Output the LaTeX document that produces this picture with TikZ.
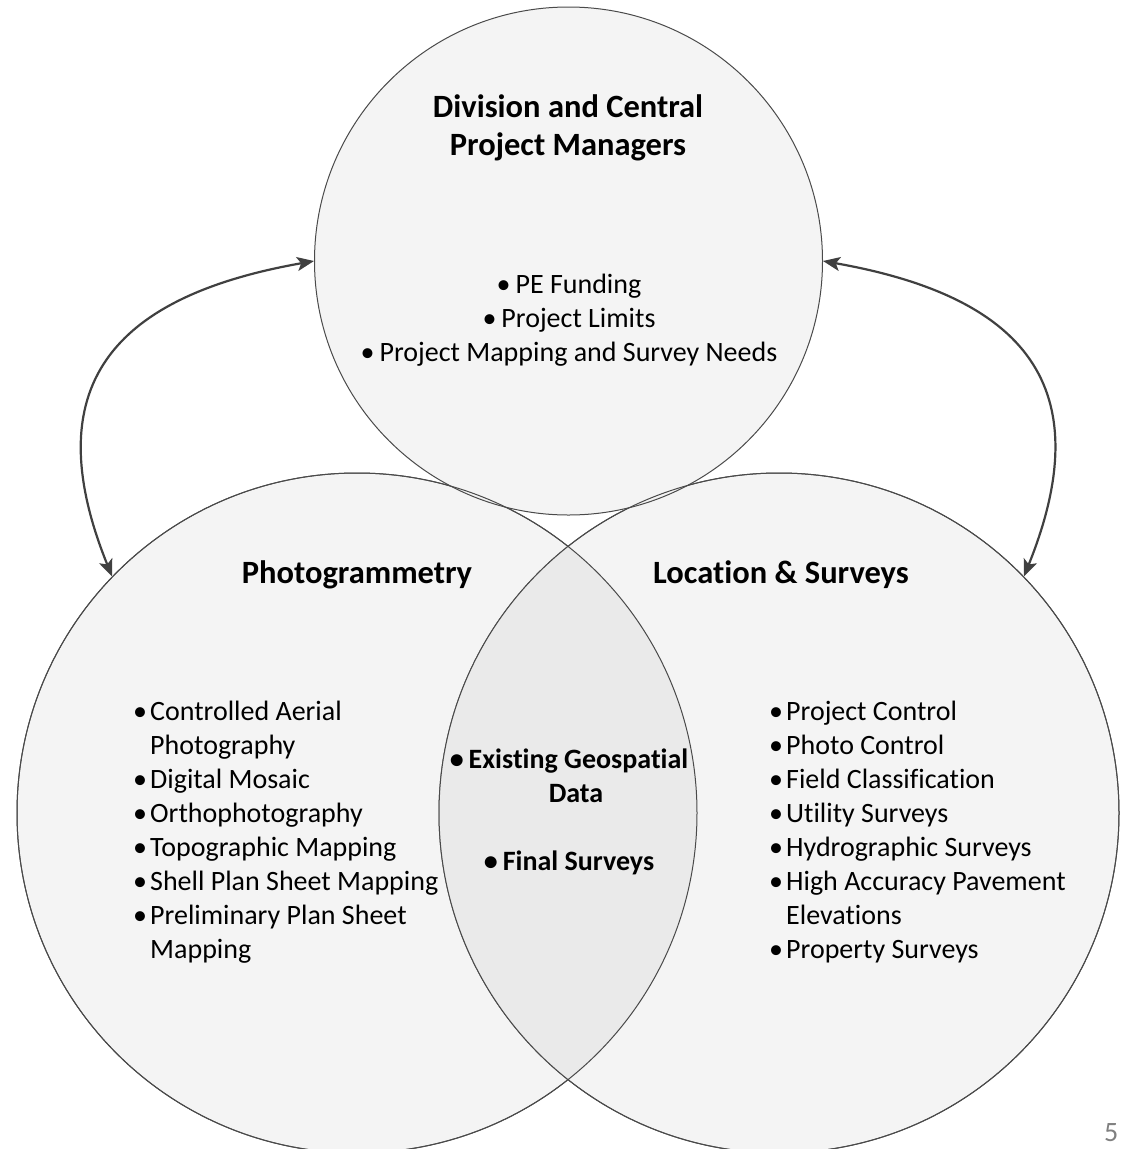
\documentclass[tikz,border=0pt]{standalone}
\usepackage{fontspec}
\setmainfont{Carlito}[Ligatures=NoCommon]
\usetikzlibrary{arrows.meta}
\definecolor{vennfill}{HTML}{F4F4F4}
\definecolor{lensfill}{HTML}{EAEAEA}
\definecolor{rim}{HTML}{4A4A4A}
\definecolor{arrowgray}{HTML}{404040}
\tikzset{
  venn/.style={circle, draw=rim, line width=1pt, fill=vennfill, inner sep=0pt},
  rimline/.style={draw=rim, line width=1pt},
  heading/.style={font=\fontsize{32.5}{38}\selectfont\bfseries, anchor=base, inner sep=0pt},
  body/.style={font=\fontsize{28}{34}\selectfont, anchor=base west, inner sep=0pt},
  link/.style={{Stealth[length=17pt,width=14pt,inset=4pt]}-{Stealth[length=17pt,width=14pt,inset=4pt]},
    line width=2.2pt, draw=arrowgray, looseness=1.4}
}
\begin{document}
\begin{tikzpicture}[x=1pt,y=1pt]
  \useasboundingbox (0,0) rectangle (1121,-1149);
  % the three circles
  \node[venn, minimum size=680pt] (photo) at (357,-813) {};
  \node[venn, minimum size=680pt] (surv) at (779,-813) {};
  \node[venn, minimum size=508pt] (mgr) at (568.5,-261) {};
  \begin{scope}
    \clip (photo.center) circle (340);
    \fill[lensfill] (surv.center) circle (340);
  \end{scope}
  \draw[rimline] (photo.center) circle (340) (surv.center) circle (340);
  % connectors
  \draw[link] (mgr.west) to[out=190, in=112] (photo.136);
  \draw[link] (mgr.east) to[out=-10, in=68] (surv.44);
  % headings
  \node[heading] (mgrtitle) at (568,-117)
    {\begin{tabular}[t]{@{}c@{}}Division and Central\\Project Managers\end{tabular}};
  \node[heading] (phototitle) at (357,-583) {Photogrammetry};
  \node[heading] (survtitle) at (781,-583) {Location \& Surveys};
  % lists
  \node[body, anchor=base] (mgrlist) at (569,-293)
    {\begin{tabular}[t]{@{}c@{}}
      \textbullet\hspace{5pt}PE Funding\\
      \textbullet\hspace{5pt}Project Limits\\
      \textbullet\hspace{5pt}Project Mapping and Survey Needs
    \end{tabular}};
  \node[body] (photolist) at (133,-720)
    {\begin{tabular}[t]{@{}p{17pt}@{}l@{}}
      \textbullet & Controlled Aerial\\
                  & Photography\\
      \textbullet & Digital Mosaic\\
      \textbullet & Orthophotography\\
      \textbullet & Topographic Mapping\\
      \textbullet & Shell Plan Sheet Mapping\\
      \textbullet & Preliminary Plan Sheet\\
                  & Mapping
    \end{tabular}};
  \node[body] (survlist) at (769,-720)
    {\begin{tabular}[t]{@{}p{17pt}@{}l@{}}
      \textbullet & Project Control\\
      \textbullet & Photo Control\\
      \textbullet & Field Classification\\
      \textbullet & Utility Surveys\\
      \textbullet & Hydrographic Surveys\\
      \textbullet & High Accuracy Pavement\\
                  & Elevations\\
      \textbullet & Property Surveys
    \end{tabular}};
  \node[body, anchor=base, font=\fontsize{28}{34}\selectfont\bfseries] (lenslist) at (569,-768)
    {\begin{tabular}[t]{@{}c@{}}
      \textbullet\hspace{5pt}Existing Geospatial\\
      \hspace*{14pt}Data\\[34pt]
      \textbullet\hspace{5pt}Final Surveys
    \end{tabular}};
  \node[anchor=base west, inner sep=0pt, font=\fontsize{28}{34}\selectfont, text=gray] (pagenum) at (1104,-1141) {5};
\end{tikzpicture}
\end{document}
